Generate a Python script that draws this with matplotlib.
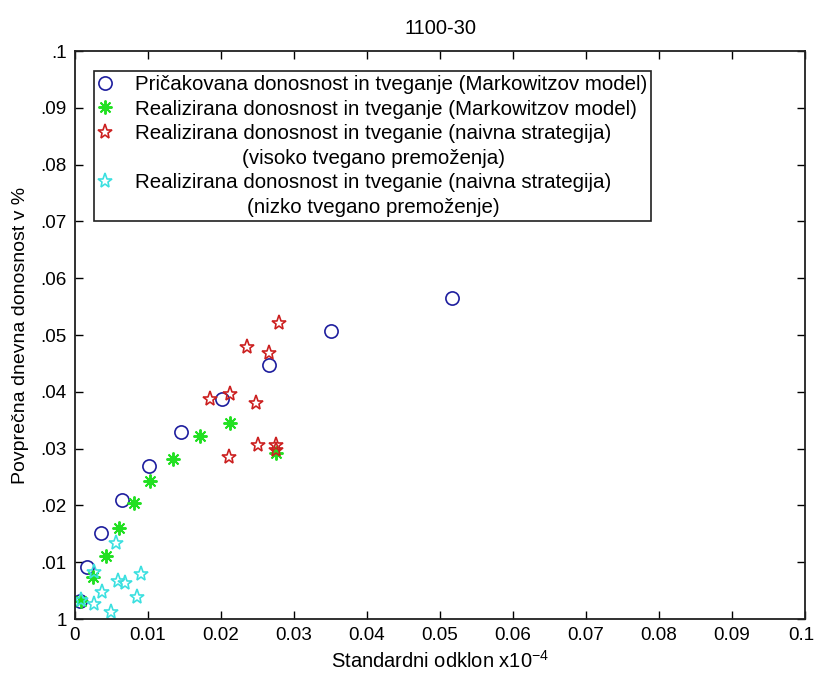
import numpy as np
import matplotlib
matplotlib.use('Agg')
import matplotlib.pyplot as plt
from matplotlib.lines import Line2D
from matplotlib.transforms import ScaledTranslation

plt.rcParams['font.family'] = ['Liberation Sans', 'DejaVu Sans']
plt.rcParams['mathtext.default'] = 'regular'

# Markowitz - expected risk / return
exp_risk = [0.0516, 0.0350, 0.0266, 0.0202, 0.0145, 0.0101, 0.0064, 0.0036, 0.0017, 0.0007]
exp_ret = [0.0566, 0.0507, 0.0447, 0.0388, 0.0329, 0.0269, 0.0210, 0.0151, 0.0092, 0.0032]

# Markowitz - realized
real_risk = [0.0276, 0.0212, 0.0171, 0.0134, 0.0103, 0.0081, 0.0060, 0.0043, 0.0024, 0.0008]
real_ret = [0.0292, 0.0345, 0.0323, 0.0281, 0.0243, 0.0204, 0.0161, 0.0111, 0.0074, 0.0032]

# naive strategy, high risk assets
hi_risk = [0.0279, 0.0236, 0.0266, 0.0185, 0.0212, 0.0248, 0.0250, 0.0275, 0.0275, 0.0211]
hi_ret = [0.0521, 0.0478, 0.0469, 0.0387, 0.0396, 0.0381, 0.0306, 0.0307, 0.0298, 0.0285]

# naive strategy, low risk assets
lo_risk = [0.0056, 0.0091, 0.0059, 0.0068, 0.0085, 0.0037, 0.0026, 0.0026, 0.0049, 0.0008]
lo_ret = [0.0134, 0.0080, 0.0067, 0.0063, 0.0039, 0.0048, 0.0026, 0.0083, 0.0013, 0.0034]

xticks = np.arange(0, 0.1001, 0.01)
xticklabels = ['0', '0.01', '0.02', '0.03', '0.04', '0.05', '0.06', '0.07', '0.08', '0.09', '0.1']
yticklabels = ['1', '.01', '.02', '.03', '.04', '.05', '.06', '.07', '.08', '.09', '.1']

labels = ['Pričakovana donosnost in tveganje (Markowitzov model)',
          'Realizirana donosnost in tveganje (Markowitzov model)',
          'Realizirana donosnost in tveganie (naivna strategija)',
          '(visoko tvegano premoženja)',
          'Realizirana donosnost in tveganie (naivna strategija)',
          '(nizko tvegano premoženje)']

c_blue = '#1e1e9e'
c_green = '#22e022'
c_red = '#cc2020'
c_cyan = '#3ce0e0'

fig = plt.figure(figsize=(8.16, 6.84), dpi=100)
ax = fig.add_axes([75/816, 1-619/684, 730/816, 568/684])

h1, = ax.plot(exp_risk, exp_ret, 'o', ms=9.5, mfc='none', mec=c_blue, mew=1.2, linestyle='none')
h2, = ax.plot(real_risk, real_ret, marker=(8, 2, 0), ms=10, color=c_green, mew=1.4, linestyle='none')
h3, = ax.plot(hi_risk, hi_ret, '*', ms=11, mfc='none', mec=c_red, mew=1.2, linestyle='none')
h4, = ax.plot(lo_risk, lo_ret, '*', ms=11, mfc='none', mec=c_cyan, mew=1.2, linestyle='none')
blank = Line2D([], [], linestyle='none', marker='none')

ax.set_xlim(0, 0.1)
ax.set_ylim(0, 0.1)
ax.set_xticks(xticks)
ax.set_xticklabels(xticklabels)
ax.set_yticks(xticks)
ax.set_yticklabels(yticklabels)
ax.tick_params(direction='in', length=5.8, width=1, top=True, right=True,
               labelsize=13.6, pad=6)
for s in ax.spines.values():
    s.set_linewidth(1.3)
    s.set_color('#202020')

# last x label sits on the figure edge, nudge it in a bit
last = ax.get_xticklabels()[-1]
last.set_transform(last.get_transform() + ScaledTranslation(-3/72, 0, fig.dpi_scale_trans))

ax.set_title('1100-30', fontsize=14.5, pad=12)
ax.set_xlabel('Standardni odklon x10$^{-4}$', fontsize=14.5, labelpad=4)
ax.set_ylabel('Povprečna dnevna donosnost v %', fontsize=14, labelpad=8)

leg = ax.legend([h1, h2, h3, blank, h4, blank], labels, loc='upper left',
                bbox_to_anchor=(0.026, 0.9648), borderaxespad=0, fontsize=14.8,
                numpoints=1, handlelength=0.7, handletextpad=1.1, labelspacing=0.27,
                borderpad=0.2, fancybox=False, framealpha=1, edgecolor='#202020')
leg.get_frame().set_linewidth(1.2)

# center the second line of the two-line entries under the first line
fig.canvas.draw()
r = fig.canvas.get_renderer()
texts = leg.get_texts()
for i_main, i_sub in [(2, 3), (4, 5)]:
    w_main = texts[i_main].get_window_extent(r).width
    w_sub = texts[i_sub].get_window_extent(r).width
    texts[i_sub].set_x((w_main - w_sub) / 2)

fig.savefig('out.png', dpi=100)
